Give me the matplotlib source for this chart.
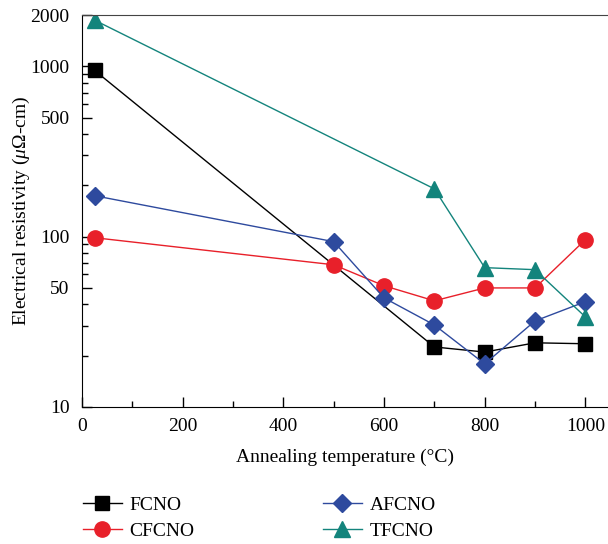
import matplotlib
matplotlib.use("Agg")
import matplotlib.pyplot as plt
from matplotlib.ticker import FixedLocator, FixedFormatter, LogLocator, NullFormatter, MultipleLocator

plt.rcParams['font.family'] = ['Liberation Serif', 'DejaVu Serif']
plt.rcParams['mathtext.fontset'] = 'custom'
plt.rcParams['mathtext.rm'] = 'Liberation Serif'
plt.rcParams['mathtext.it'] = 'Liberation Serif:italic'

temps = [25, 500, 600, 700, 800, 900, 1000]
fcno_t = [25, 700, 800, 900, 1000]
fcno = [947, 22.5, 21, 23.8, 23.5]
cfcno = [98.6, 68.4, 51.5, 42, 50, 50, 96]
afcno = [174, 93.5, 43.7, 30.3, 17.9, 32, 41.5]
tfcno_t = [25, 700, 800, 900, 1000]
tfcno = [1870, 191, 65.8, 64, 33.8]

y_major = [10, 50, 100, 500, 1000, 2000]
y_labels = ['10', '50', '100', '500', '1000', '2000']

fig = plt.figure(figsize=(6.08, 5.44), dpi=100)
ax = fig.add_axes([0.135, 0.252, 0.865, 0.72])

ax.plot(fcno_t, fcno, color='black', marker='s', ms=10, lw=1, label='FCNO')
ax.plot(temps, cfcno, color='#e8202a', marker='o', ms=11, lw=1, label='CFCNO')
ax.plot(temps, afcno, color='#2e4a9e', marker='D', ms=9, lw=1, label='AFCNO')
ax.plot(tfcno_t, tfcno, color='#13847c', marker='^', ms=11, lw=1, label='TFCNO')

ax.set_yscale('log')
ax.set_ylim(10, 2000)
ax.set_xlim(0, 1045)
ax.yaxis.set_major_locator(FixedLocator(y_major))
ax.yaxis.set_major_formatter(FixedFormatter(y_labels))
ax.yaxis.set_minor_locator(LogLocator(base=10, subs=[2, 3, 4, 6, 7, 8, 9]))
ax.yaxis.set_minor_formatter(NullFormatter())
ax.xaxis.set_major_locator(MultipleLocator(200))
ax.xaxis.set_minor_locator(MultipleLocator(100))

ax.tick_params(which='both', direction='in', labelsize=14, top=False, right=False)
ax.tick_params(which='major', length=7, width=1)
ax.tick_params(which='minor', length=4, width=1)
ax.tick_params(axis='y', pad=9)
ax.tick_params(axis='x', pad=8)
ax.spines['right'].set_visible(False)
ax.spines['top'].set_color('#444444')

ax.set_xlabel('Annealing temperature (°C)', fontsize=14, labelpad=10)
ax.set_ylabel(r'Electrical resistivity ($\mu$Ω-cm)', fontsize=14, labelpad=-1)

handles, labels = ax.get_legend_handles_labels()
fig.legend(handles, labels, ncol=2, loc='upper left', bbox_to_anchor=(0.12, 0.106),
           frameon=False, fontsize=14, handlelength=2.0, columnspacing=6.6,
           labelspacing=0.45, borderpad=0, handletextpad=0.4)

fig.savefig('out.png', dpi=100)
